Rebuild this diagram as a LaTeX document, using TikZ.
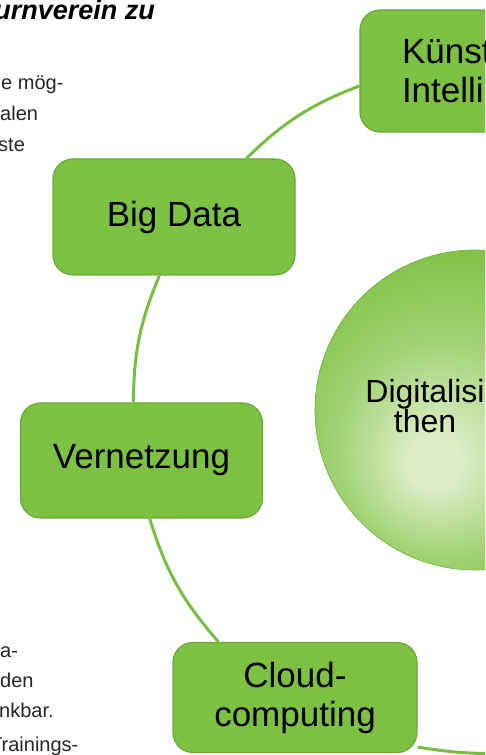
\documentclass[tikz,border=0pt]{standalone}
\usepackage{fontspec}
\setmainfont{Liberation Sans}

\definecolor{boxgreen}{RGB}{125,193,66}
\definecolor{edgegreen}{RGB}{106,168,58}
\definecolor{linkgreen}{RGB}{120,190,66}
\definecolor{hubpale}{RGB}{220,237,200}
\definecolor{hubmid}{RGB}{160,210,115}
\definecolor{bodygrey}{RGB}{38,38,38}

\newcommand{\boxfont}{\fontsize{35}{39}\selectfont}
\newcommand{\hubfont}{\fontsize{32}{30}\selectfont}
\newcommand{\bodyfont}{\fontsize{20}{30}\selectfont}

% soft glow, a bit off centre
\pgfdeclareradialshading{hubglow}{\pgfpoint{-7bp}{-9bp}}{color(0bp)=(hubpale); color(4bp)=(hubpale); color(17bp)=(hubmid); color(31bp)=(boxgreen); color(50bp)=(boxgreen)}

\begin{document}
\begin{tikzpicture}[x=1pt,y=1pt,
	box/.style={draw=edgegreen, line width=1.2pt, fill=boxgreen, rounded corners=20pt,
		minimum width=242pt, minimum height=116pt, align=center, font=\boxfont, text=black},
	link/.style={draw=linkgreen, line width=3pt},
	bodytext/.style={anchor=base west, inner sep=0pt, font=\bodyfont, text=bodygrey}]
		\useasboundingbox (0,0) rectangle (485,755);
		\clip (0,0) rectangle (485,755);
		\fill[white] (0,0) rectangle (485,755);
		% text column on the left
		\node[anchor=base east, inner sep=0pt, font=\fontsize{27}{30}\selectfont\bfseries\itshape] (title) at (155,735) {Turnverein zu};
		\node[bodytext] (t1) at (1,665) {e mög-};
		\node[bodytext] (t2) at (0,634) {alen};
		\node[bodytext] (t3) at (-2,603) {ste};
		\node[bodytext] (t4) at (59,573) {-};
		\node[bodytext] (b1) at (0,97) {a-};
		\node[bodytext] (b2) at (0,67) {den};
		\node[bodytext] (b3) at (-1,37) {nkbar.};
		\node[bodytext] (b4) at (-10,4) {Trainings-};
		% centre circle
		\node[circle, minimum size=320pt, inner sep=0pt, shade, shading=hubglow, draw=boxgreen!90!black, line width=0.6pt] (hub) at (475,345) {};
		\node[anchor=base, align=center, font=\hubfont, text=black] (hubtext) at (425,322) {Digitalisi\\then};
		% boxes round the ring
		\node[box, minimum height=122pt, align=left, text width=158pt, inner xsep=42pt] (kuenst) at (481,684) {Künst\\Intelli};
		\node[box] (bigdata) at (174,538) {Big Data};
		\node[box, minimum height=115pt] (vernetzung) at (141.5,294.5) {Vernetzung};
		\node[box, minimum width=244pt, minimum height=110pt] (cloud) at (295,57.5) {Cloud-\\computing};
		\coordinate (rim) at (645.5,49.7);
		% ring segments
		\draw[link] (kuenst.187) to[bend right=11.6] (bigdata.39);
		\draw[link] (bigdata.256) to[bend right=11] (vernetzung.98);
		\draw[link] (vernetzung.278) to[bend right=12] (cloud.144);
		\draw[link] (cloud.338) to[bend right=20] (rim);
	\end{tikzpicture}
\end{document}
